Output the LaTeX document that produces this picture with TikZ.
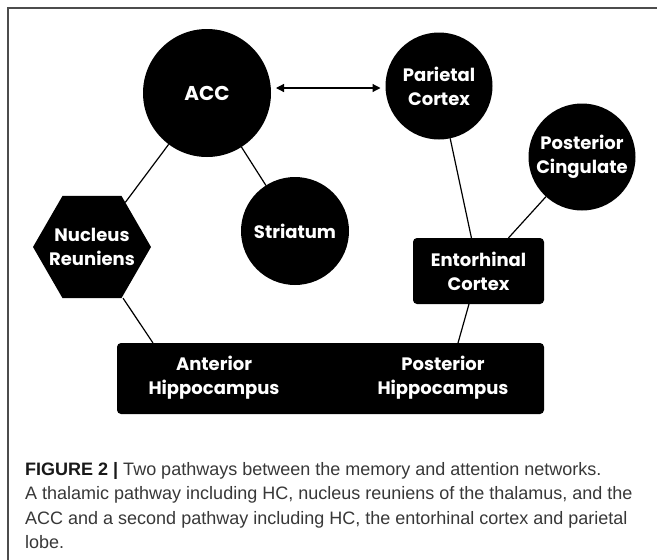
\documentclass[tikz,border=0pt]{standalone}
\usepackage{fontspec}
\setmainfont{Liberation Sans}
\newfontfamily\nodefont{Poppins}
\usetikzlibrary{shapes.geometric,arrows.meta}
\tikzset{
  blob/.style={circle, fill=black, inner sep=0pt, outer sep=0pt, text=white, align=center,
    font=\nodefont\bfseries\fontsize{18}{24}\selectfont},
  hexa/.style={regular polygon, regular polygon sides=6, fill=black, inner sep=0pt, outer sep=0pt,
    minimum size=118pt},
  boxx/.style={rectangle, rounded corners=4pt, fill=black, inner sep=0pt, outer sep=0pt,
    text=white, align=center, font=\nodefont\bfseries\fontsize{18}{24}\selectfont},
  lbl/.style={text=white, align=center, inner sep=0pt, font=\nodefont\bfseries\fontsize{18}{24}\selectfont},
  link/.style={line width=1.2pt, black},
  dblarrow/.style={line width=1.2pt, {Triangle[length=8pt,width=8pt]}-{Triangle[length=8pt,width=8pt]}},
  frame/.style={line width=1.6pt, black!70},
  captext/.style={anchor=base west, inner sep=0pt, text=black!78, font=\fontsize{18}{24}\selectfont}
}
\begin{document}
\begin{tikzpicture}[x=1pt,y=-1pt]
\useasboundingbox (0,0) rectangle (657,560);
\fill[white] (0,0) rectangle (657,560);
\draw[frame] (8,560) -- (8,8) -- (657,8);

\node[blob, minimum size=128pt, font=\nodefont\bfseries\fontsize{20}{24}\selectfont] (acc) at (207,93) {ACC};
\node[blob, minimum size=107pt] (par) at (439,86) {Parietal\\Cortex};
\node[blob, minimum size=107pt] (pcc) at (582,157) {Posterior\\Cingulate};
\node[blob, minimum size=108pt] (str) at (295,231) {Striatum};
\node[hexa] (nr) at (92,247) {};
\node[lbl] (nrtext) at (nr.center) {Nucleus\\Reuniens};
\node[boxx, minimum width=131pt, minimum height=66pt] (ent) at (478.5,271) {Entorhinal\\Cortex};
\node[boxx, minimum width=427pt, minimum height=71pt] (hc) at (330.5,378.5) {};
\node[lbl] (ant) at (214,377.5) {Anterior\\Hippocampus};
\node[lbl] (post) at (443,377.5) {Posterior\\Hippocampus};

\draw[link] (acc) -- (nr);
\draw[link] (acc) -- (str);
\draw[link] (par) -- (ent);
\draw[link] (pcc) -- (ent);
\draw[link] ([xshift=-9.5pt]ent.south) -- ([xshift=127.5pt]hc.north);
\draw[link] ([xshift=31pt]nr.south) -- ([xshift=-177.5pt]hc.north);
\draw[dblarrow] ([xshift=5pt,yshift=5pt]acc.east) -- ([xshift=-5pt,yshift=-2pt]par.west);

\node[captext] (c1) at (25,475) {\textbf{\color{black!90}FIGURE 2 |} Two pathways between the memory and attention networks.};
\node[captext] (c2) at (25,499.5) {A thalamic pathway including HC, nucleus reuniens of the thalamus, and the};
\node[captext] (c3) at (25,524) {ACC and a second pathway including HC, the entorhinal cortex and parietal};
\node[captext] (c4) at (25,548.5) {lobe.};
\end{tikzpicture}
\end{document}
